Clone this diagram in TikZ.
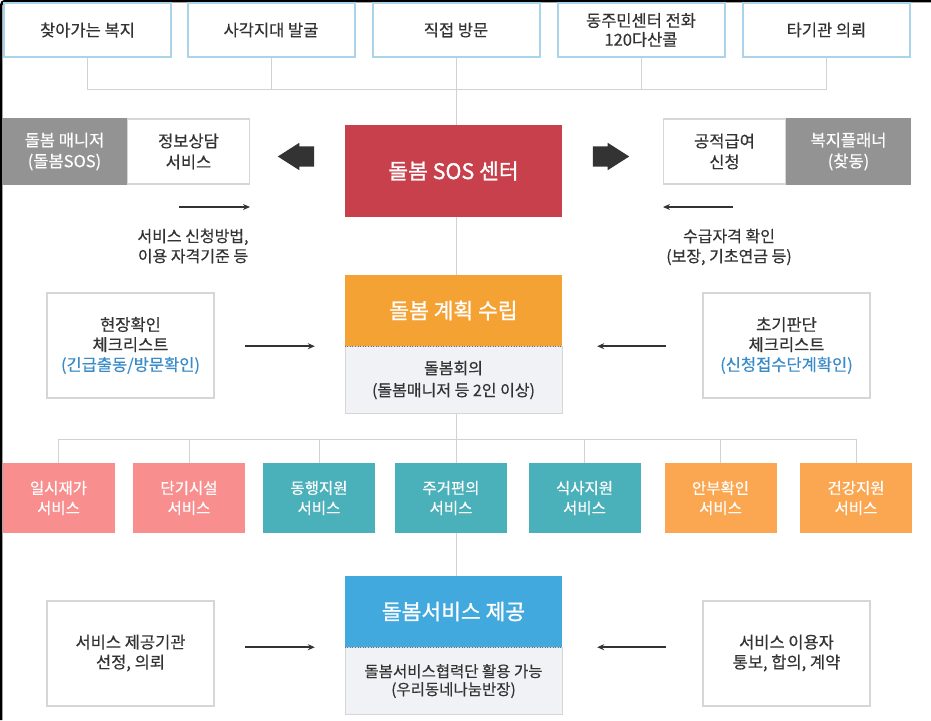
\documentclass[tikz,border=0pt]{standalone}
\usepackage{fontspec}
\setmainfont{Noto Sans CJK KR}[FakeBold=0.35]
\newfontfamily\titlefont{Noto Sans CJK KR}[FakeBold=1.1]
\usetikzlibrary{positioning, arrows.meta, calc, shapes.arrows, backgrounds}
\definecolor{ink}{HTML}{333333}
\definecolor{sosred}{HTML}{C8404B}
\definecolor{planorange}{HTML}{F4A234}
\definecolor{careblue}{HTML}{42A9DE}
\definecolor{svcpink}{HTML}{F88E8E}
\definecolor{svcteal}{HTML}{4AB0BA}
\definecolor{svcorange}{HTML}{FBA650}
\definecolor{mgrgray}{HTML}{939393}
\definecolor{notered}{HTML}{3A8CC8}
\definecolor{skyline}{HTML}{AAD4EA}
\definecolor{boxline}{HTML}{D6D6D6}
\definecolor{subfill}{HTML}{F1F2F5}
\definecolor{wireline}{HTML}{D2D2D2}

\tikzset{
  every node/.style={text=ink, align=center, inner sep=0pt},
  topbox/.style={draw=skyline, line width=2pt, fill=white, minimum width=167pt,
    minimum height=54pt, font=\fontsize{16.5}{19}\selectfont},
  mgrbox/.style={fill=mgrgray, text=white, minimum width=125pt, minimum height=67pt,
    font=\fontsize{16.5}{21}\selectfont},
  infobox/.style={draw=boxline, line width=1.5pt, fill=white, minimum width=122pt,
    minimum height=65pt, font=\fontsize{16.5}{21}\selectfont},
  stagebox/.style={text=white, minimum width=217pt, font=\titlefont\fontsize{21.5}{24}\selectfont},
  subbox/.style={draw=boxline, line width=0.8pt, fill=subfill, minimum width=217pt,
    minimum height=67pt},
  checkbox/.style={draw=boxline, line width=2pt, fill=white, minimum width=167pt,
    minimum height=105pt, font=\fontsize{16.5}{20}\selectfont},
  svcbox/.style={text=white, minimum width=112pt, minimum height=70pt,
    font=\fontsize{15.5}{20}\selectfont},
  notetext/.style={font=\fontsize{16}{20}\selectfont},
  fatarrow/.style={single arrow, fill=ink, inner sep=10pt, minimum height=36pt,
    single arrow head extend=3.5pt, single arrow tip angle=65},
  wire/.style={draw=wireline, line width=1pt},
  thinarrow/.style={draw=ink, line width=1.5pt, -{Stealth[length=7pt, width=6pt]}},
}

\begin{document}
\begin{tikzpicture}[x=1pt, y=-1pt]
\useasboundingbox (0,0) rectangle (931,720);

%--- Outer frame (top and left edges)
\draw[black, line width=2.5pt, rounded corners=4pt] (1.2,720) -- (1.2,1) -- (931,1);

%--- TOP ROW: ways of finding people
\node[topbox] (find1) at (87.5,30)  {찾아가는 복지};
\node[topbox] (find2) at (271,30)   {사각지대 발굴};
\node[topbox] (find3) at (456,30)   {직접 방문};
\node[topbox] (find4) at (641,30)   {동주민센터 전화\\120다산콜};
\node[topbox] (find5) at (826.5,30) {타기관 의뢰};

%--- ROW 2: SOS centre
\node[mgrbox]  (manager) at (64.5,151.5)  {돌봄 매니저\\(돌봄SOS)};
\node[infobox] (consult) at (188.5,151.5) {정보상담\\서비스};
\node[fatarrow, shape border rotate=180] (toLeft) at (304,156.5) {};
\node[stagebox, fill=sosred, minimum height=92pt] (sos) at (453.5,171) {돌봄 SOS 센터};
\node[fatarrow] (toRight) at (603,156.5) {};
\node[infobox] (benefit) at (724.5,151.5) {공적급여\\신청};
\node[mgrbox]  (planner) at (848.5,151.5) {복지플래너\\(찾동)};

\coordinate (infoFrom) at (179,207);
\coordinate (infoTo)   at (250,207);
\draw[thinarrow] (infoFrom) -- (infoTo);
\node[notetext] (infoNote) at (193,246) {서비스 신청방법,\\이용 자격기준 등};

\coordinate (elgFrom) at (733,207);
\coordinate (elgTo)   at (663,207);
\draw[thinarrow] (elgFrom) -- (elgTo);
\node[notetext] (elgNote) at (729,247) {수급자격 확인\\(보장, 기초연금 등)};

%--- ROW 3: care plan
\node[stagebox, fill=planorange, minimum height=71pt] (plan) at (453.5,310.5) {돌봄 계획 수립};
\node[subbox, below=0pt of plan, font=\fontsize{16}{22}\selectfont] (meeting)
  {돌봄회의\\(돌봄매니저 등 2인 이상)};
\draw[ink!70, line width=0.6pt, dotted] (meeting.north west) -- (meeting.north east);

\node[checkbox] (siteCheck) at (130.5,345.5)
  {현장확인\\체크리스트\\\textcolor{notered}{(긴급출동/방문확인)}};
\node[checkbox] (firstCheck) at (786.5,345.5)
  {초기판단\\체크리스트\\\textcolor{notered}{(신청접수단계확인)}};
\draw[thinarrow] ([xshift=30pt]siteCheck.east |- plan.south) -- ([xshift=-30pt]plan.south west);
\draw[thinarrow] ([xshift=-36pt]firstCheck.west |- plan.south) -- ([xshift=35pt]plan.south east);

%--- ROW 4: services
\node[svcbox, fill=svcpink]   (svc1) at (58.5,498)  {일시재가\\서비스};
\node[svcbox, fill=svcpink]   (svc2) at (189,498)   {단기시설\\서비스};
\node[svcbox, fill=svcteal]   (svc3) at (319,498)   {동행지원\\서비스};
\node[svcbox, fill=svcteal]   (svc4) at (451,498)   {주거편의\\서비스};
\node[svcbox, fill=svcteal]   (svc5) at (584.5,498) {식사지원\\서비스};
\node[svcbox, fill=svcorange] (svc6) at (720.5,498) {안부확인\\서비스};
\node[svcbox, fill=svcorange] (svc7) at (856,498)   {건강지원\\서비스};

%--- ROW 5: service delivery
\node[stagebox, fill=careblue, minimum height=71pt] (deliver) at (453.5,611.5) {돌봄서비스 제공};
\node[subbox, below=0pt of deliver, font=\fontsize{15.5}{18}\selectfont] (helpers)
  {돌봄서비스협력단 활용 가능\\(우리동네나눔반장)};
\draw[ink!70, line width=0.6pt, dotted] (helpers.north west) -- (helpers.north east);

\node[checkbox] (provider) at (130.5,653) {서비스 제공기관\\선정, 의뢰};
\node[checkbox] (user)     at (786.5,653) {서비스 이용자\\통보, 합의, 계약};
\draw[thinarrow] ([xshift=30pt]provider.east |- deliver.south) -- ([xshift=-30pt]deliver.south west);
\draw[thinarrow] ([xshift=-36pt]user.west |- deliver.south) -- ([xshift=35pt]deliver.south east);

%--- Connector wires (behind the boxes)
\begin{scope}[on background layer]
  \coordinate (topBus) at (0,89);
  \coordinate (svcBus) at (0,439);
  \draw[wire] (find1.south) -- (find1.south |- topBus) -- (find5.south |- topBus) -- (find5.south);
  \foreach \n in {find2, find4}
    \draw[wire] (\n.south) -- (\n.south |- topBus);
  \draw[wire] (find3.south) -- (find3.south |- deliver.north);
  \draw[wire] (svc1.north) -- (svc1.north |- svcBus) -- (svc7.north |- svcBus) -- (svc7.north);
  \foreach \n in {svc2, svc3, svc5, svc6}
    \draw[wire] (\n.north) -- (\n.north |- svcBus);
\end{scope}

\end{tikzpicture}
\end{document}
